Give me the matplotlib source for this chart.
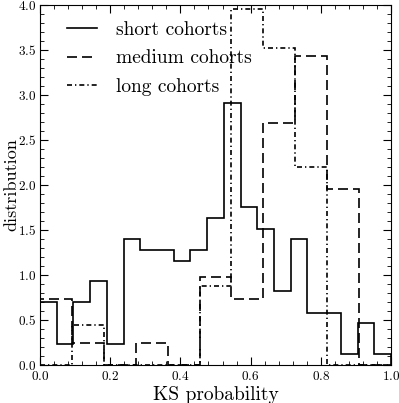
import numpy as np
import matplotlib
matplotlib.use("Agg")
import matplotlib.pyplot as plt
from matplotlib.ticker import MultipleLocator, AutoMinorLocator

plt.rcParams['font.family'] = 'serif'
plt.rcParams['font.serif'] = ['cmr10']
plt.rcParams['mathtext.fontset'] = 'cm'
plt.rcParams['axes.formatter.use_mathtext'] = True

# density histograms
short_heights = [0.70, 0.23, 0.70, 0.93, 0.23, 1.40, 1.28, 1.28, 1.16, 1.28, 1.63,
                 2.91, 1.75, 1.51, 0.82, 1.40, 0.58, 0.58, 0.12, 0.47, 0.12]
medium_heights = [0.73, 0.24, 0.0, 0.24, 0.0, 0.98, 0.73, 2.69, 3.43, 1.96, 0.0]
long_heights = [0.0, 0.44, 0.0, 0.0, 0.0, 0.88, 3.96, 3.52, 2.20, 0.0, 0.0]

short_edges = np.linspace(0, 1, len(short_heights) + 1)
medium_edges = np.linspace(0, 1, len(medium_heights) + 1)
long_edges = np.linspace(0, 1, len(long_heights) + 1)

fig = plt.figure(figsize=(3.99, 4.03), dpi=100)
ax = fig.add_axes([0.1003, 0.0943, 0.8797, 0.8933])

ax.stairs(short_heights, short_edges, color='black', lw=1.2, ls='-', label='short cohorts')
ax.stairs(medium_heights, medium_edges, color='black', lw=1.2, ls=(0, (6, 3)), label='medium cohorts')
ax.stairs(long_heights, long_edges, color='black', lw=1.2, ls=(0, (3, 1.8, 0.8, 1.8)), label='long cohorts')

ax.set_xlim(0, 1)
ax.set_ylim(0, 4)
ax.xaxis.set_major_locator(MultipleLocator(0.2))
ax.yaxis.set_major_locator(MultipleLocator(0.5))
ax.xaxis.set_minor_locator(AutoMinorLocator(5))
ax.yaxis.set_minor_locator(AutoMinorLocator(5))
ax.tick_params(which='both', direction='in', top=True, right=True, labelsize=9.5)
ax.tick_params(axis='y', pad=2.5)
ax.tick_params(which='major', length=6)
ax.tick_params(which='minor', length=3)

ax.set_xlabel('KS probability', fontsize=14, labelpad=2)
ax.set_ylabel('distribution', fontsize=13)
ax.yaxis.set_label_coords(-0.06, 0.5)

ax.legend(loc='upper left', bbox_to_anchor=(0.054, 0.978), borderaxespad=0,
          frameon=False, fontsize=14, handlelength=1.55, handletextpad=1.0,
          labelspacing=0.56)

fig.savefig('out.png', dpi=100)
